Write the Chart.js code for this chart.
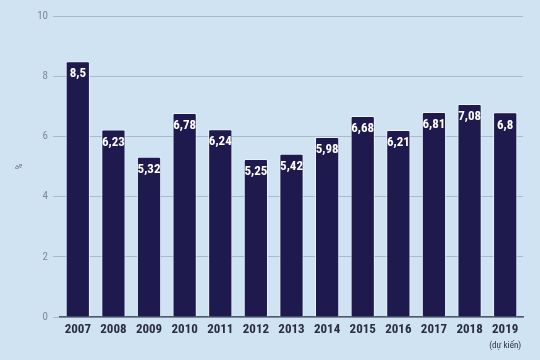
<!DOCTYPE html>
<html><head><meta charset="utf-8">
<script src="https://cdn.jsdelivr.net/npm/chart.js@4/dist/chart.umd.min.js"></script>
<style>html,body{margin:0;padding:0;background:#cfe3f3;}#wrap{width:540px;height:360px;}</style>
</head><body><div id="wrap"><canvas id="c" width="540" height="360"></canvas></div>
<script>
const years = ["2007","2008","2009","2010","2011","2012","2013","2014","2015","2016","2017","2018","2019"];
const values = [8.5,6.23,5.32,6.78,6.24,5.25,5.42,5.98,6.68,6.21,6.81,7.08,6.8];
const valueLabels = ["8,5","6,23","5,32","6,78","6,24","5,25","5,42","5,98","6,68","6,21","6,81","7,08","6,8"];
const yTicks = [0,2,4,6,8,10];
const noteIndex = 12;
const noteLabel = "(dự kiến)";
const axisTitle = "%";

const FONT = "'Liberation Sans Narrow','Roboto Condensed','Liberation Sans',sans-serif";

const labelPlugin = {
  id: 'labels',
  afterDatasetsDraw(chart) {
    const ctx = chart.ctx;
    const meta = chart.getDatasetMeta(0);
    ctx.save();
    ctx.fillStyle = '#ffffff';
    ctx.font = "bold 13px " + FONT;
    ctx.textAlign = 'center';
    ctx.textBaseline = 'middle';
    meta.data.forEach((bar, i) => {
      ctx.fillText(valueLabels[i], bar.x, bar.y + 13);
    });
    const xs = chart.scales.x;
    ctx.fillStyle = '#2b2d42';
    ctx.font = "9px " + FONT;
    ctx.fillText(noteLabel, xs.getPixelForValue(noteIndex), 346);
    ctx.restore();
  }
};

new Chart(document.getElementById('c'), {
  type: 'bar',
  data: {
    labels: years,
    datasets: [{
      data: values,
      backgroundColor: '#1f1a4e',
      borderColor: 'rgba(240,246,252,0.85)',
      borderWidth: 1,
      borderRadius: 2,
      borderSkipped: 'bottom',
      barPercentage: 0.68,
      categoryPercentage: 1.0
    }]
  },
  options: {
    responsive: false,
    animation: false,
    devicePixelRatio: 1,
    layout: { padding: { top: 16, right: 17, left: 0, bottom: 0 } },
    plugins: { legend: { display: false }, tooltip: { enabled: false } },
    scales: {
      x: {
        grid: { display: false, drawTicks: false },
        border: { display: true, color: '#4f5866', width: 1.5 },
        ticks: { color: '#2b2d42', font: { family: FONT, size: 13, weight: 'bold' }, padding: 5, maxRotation: 0 },
        afterFit(s) { s.height = 43; }
      },
      y: {
        min: 0, max: 10,
        afterBuildTicks(s) { s.ticks = yTicks.map(v => ({ value: v })); },
        grid: { color: '#a9bccb', lineWidth: 1, drawTicks: true, tickLength: 7, tickColor: '#a9bccb' },
        border: { display: false },
        ticks: { color: '#7d8a97', font: { family: FONT, size: 11 }, padding: 5 },
        title: { display: true, text: axisTitle, color: '#5d6875', font: { family: FONT, size: 9 }, padding: { top: 14, bottom: 0 } },
        afterFit(s) { s.width = 60; }
      }
    }
  },
  plugins: [labelPlugin]
});
</script></body></html>
